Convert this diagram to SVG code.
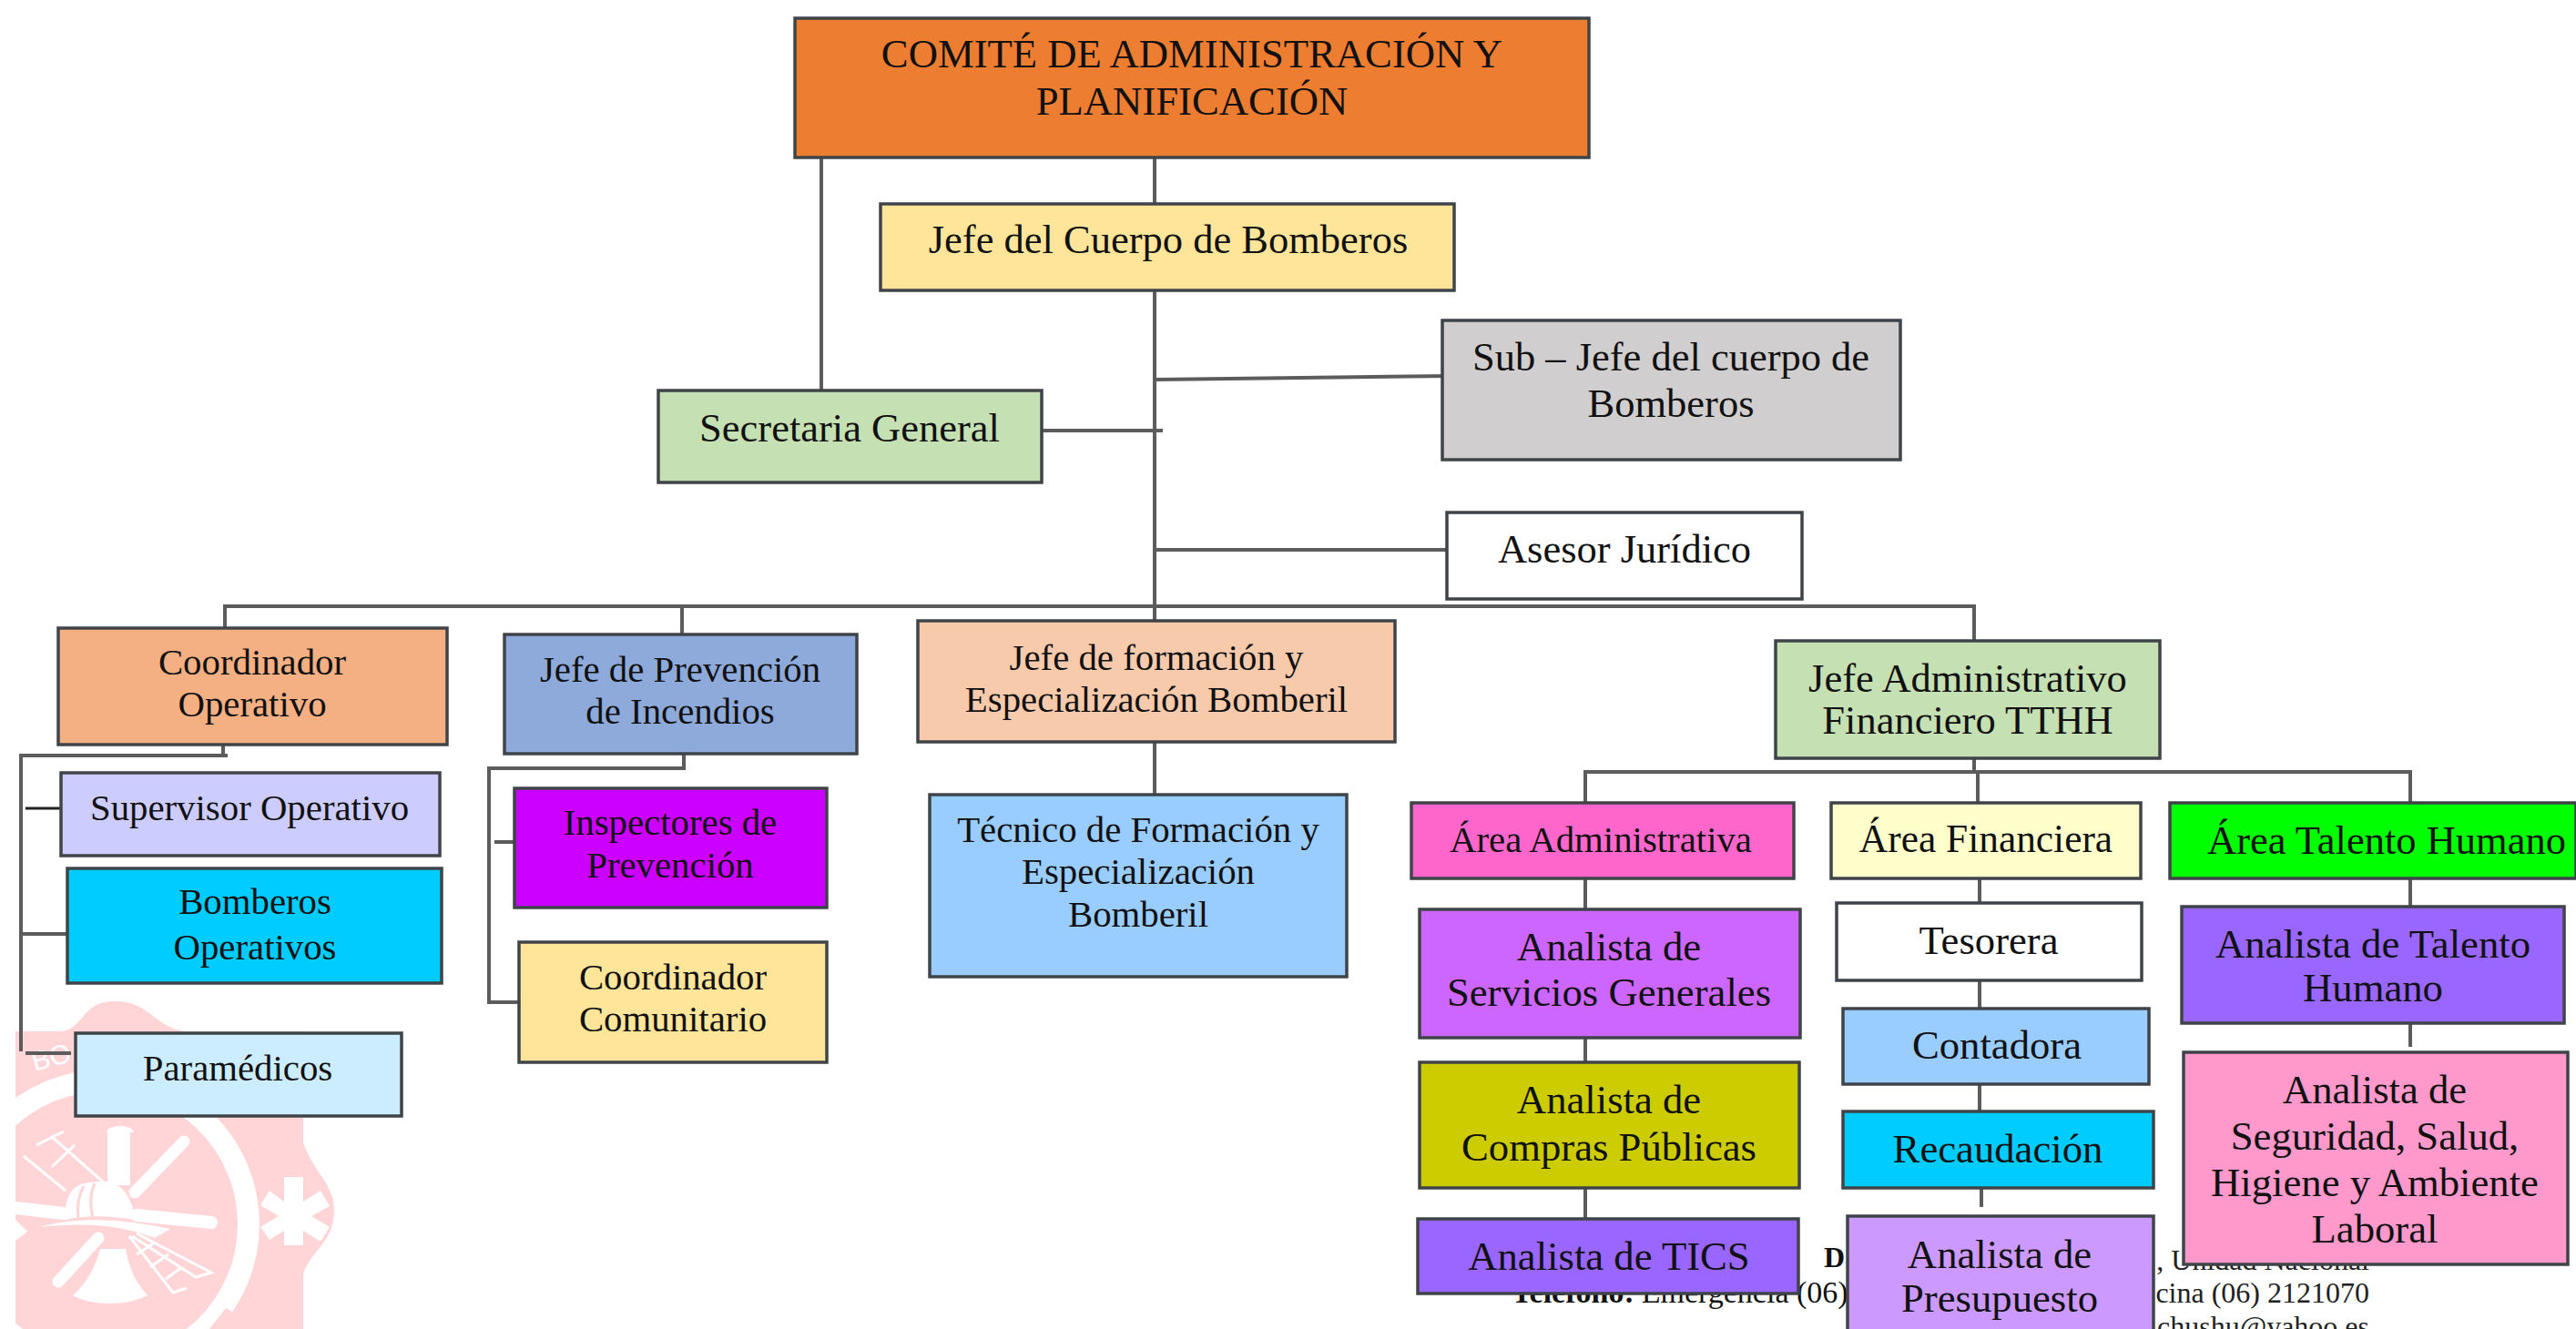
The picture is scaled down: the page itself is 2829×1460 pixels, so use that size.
<svg xmlns="http://www.w3.org/2000/svg" width="2829" height="1460" viewBox="0 0 2829 1460">
<style>
text{font-family:"Liberation Serif","Times New Roman",serif;fill:#111;text-anchor:middle}
.b{stroke:#3f4449;stroke-width:3.5}
.t44{font-size:44.5px}.t40{font-size:40.8px}.t45{font-size:44.7px}.t46{font-size:44.7px}
.c{stroke:#5c5c5c;stroke-width:4;fill:none}
.f{font-size:32px;text-anchor:end;fill:#222}
.w{fill:#fff}
.p{fill:#ffd5d8}
.wl{stroke:#fff;fill:none}
.pl{stroke:#ffd5d8;fill:none}
</style>
<defs><clipPath id="wc"><rect x="17" y="1090" width="400" height="370"/></clipPath></defs>
<rect width="2829" height="1460" fill="#fff"/>
<g id="watermark" clip-path="url(#wc)">
<path class="p" d="M0 1133H70C95 1125 90 1100 127 1100C165 1100 170 1130 205 1133H333V1255C345 1290 367 1300 367 1330C367 1365 340 1375 333 1400V1460H0Z"/>
<circle cx="115" cy="1345" r="170" class="w"/>
<path class="p" d="M248 1437L290 1460H230Z"/>
<circle cx="115" cy="1345" r="146" class="p"/>
<path class="w" d="M17 1340L30 1353L17 1363Z"/>
<g class="wl" stroke-linecap="round">
<path d="M17 1327L70 1333M150 1335L232 1343" stroke-width="14"/>
<path d="M148 1310L202 1254M108 1360L64 1408" stroke-width="13"/>
</g>
<path class="w" d="M118 1242H143V1302H118ZM117 1244a15 7 0 0 1 30 0ZM110 1372H138C142 1395 150 1410 162 1423C140 1435 100 1435 80 1423C95 1410 105 1392 110 1372Z"/>
<path class="w" d="M72 1340C70 1300 90 1298 115 1298C135 1298 147 1320 148 1340C115 1335 95 1335 72 1340Z"/>
<path class="w" d="M43 1348C90 1335 140 1340 187 1350L170 1360C130 1345 90 1343 43 1348Z"/>
<path class="pl" stroke-width="3" d="M92 1303C85 1315 85 1330 86 1338M104 1300C97 1315 100 1330 102 1338"/>
<g class="wl" stroke-width="3">
<path d="M26 1270L72 1308M56 1248L115 1300M40 1258L70 1243M57 1282L82 1258M150 1355L232 1398L215 1403L145 1358M142 1358L190 1420L205 1415M170 1365L150 1378M185 1378L165 1392M200 1392L182 1405"/>
</g>
<path class="w" d="M312 1293H333V1320L352 1308L362 1325L342 1336L362 1348L352 1364L333 1352V1368H312V1352L296 1362L286 1348L306 1336L286 1324L296 1308L312 1320Z"/>
<text x="38" y="1177" transform="rotate(-15 38 1177)" style="fill:#fff;font-family:'Liberation Sans',sans-serif;font-size:30px;text-anchor:start">BO</text>
</g>
<g id="footer">
<text x="2003" y="1392" style="font-size:32px;font-weight:bold;text-anchor:start;fill:#111">D</text>
<text x="2602" y="1395" class="f">, Unidad Nacional</text>
<text x="1660" y="1431" style="font-size:34px;font-weight:bold;text-anchor:start;fill:#111">Teléfono:<tspan font-weight="normal" dx="8">Emergencia (06)</tspan></text>
<text x="2602" y="1431" class="f">cina (06) 2121070</text>
<text x="2602" y="1468" class="f">chushu@yahoo.es</text>
</g>
<g id="connectors" class="c">
<path d="M1268 173V224M1268 319V682M902 173V429M1268 417L1592 413M1144 473H1277M1268 604H1589M247 690V666H2168V704M749 666V697"/>
<path d="M245 818V830M250 830H23V1155M23 1026H74M28 1157H78M751 828V844H537V1101H570M543 925H565"/>
<path d="M28 888H78" style="stroke:#222;stroke-width:3"/>
<path d="M1268 815V873M2168 833V848M1741 882V848H2647V882M2172 848V882M1741 965V999M1741 1140V1167M1741 1305V1339M2174 965V992M2174 1077V1108M2174 1191V1221M2176 1305V1326M2647 965V996M2647 1124V1150"/>
</g>
<g id="n-comite"><rect class="b" x="873" y="20" width="872" height="153" fill="#ed7d31"/><text class="t46" x="1309" y="74">COMITÉ DE ADMINISTRACIÓN Y</text><text class="t46" x="1309" y="126">PLANIFICACIÓN</text></g>
<g id="n-jefe"><rect class="b" x="967" y="224" width="630" height="95" fill="#ffe599"/><text class="t44" x="1283" y="278">Jefe del Cuerpo de Bomberos</text></g>
<g id="n-sub"><rect class="b" x="1584" y="352" width="503" height="153" fill="#d0cece"/><text class="t44" x="1835" y="407">Sub – Jefe del cuerpo de</text><text class="t44" x="1835" y="458">Bomberos</text></g>
<g id="n-secretaria"><rect class="b" x="723" y="429" width="421" height="101" fill="#c5e0b3"/><text class="t44" x="933" y="485">Secretaria General</text></g>
<g id="n-asesor"><rect class="b" x="1589" y="563" width="390" height="95" fill="#fff"/><text class="t44" x="1784" y="618">Asesor Jurídico</text></g>
<g id="n-coord"><rect class="b" x="64" y="690" width="427" height="128" fill="#f4b083"/><text class="t40" x="277" y="741">Coordinador</text><text class="t40" x="277" y="787">Operativo</text></g>
<g id="n-prev"><rect class="b" x="554" y="697" width="387" height="131" fill="#8eaadb"/><text class="t40" x="747" y="749">Jefe de Prevención</text><text class="t40" x="747" y="795">de Incendios</text></g>
<g id="n-form"><rect class="b" x="1008" y="682" width="524" height="133" fill="#f7caac"/><text class="t40" x="1270" y="736">Jefe de formación y</text><text class="t40" x="1270" y="782">Especialización Bomberil</text></g>
<g id="n-admin"><rect class="b" x="1950" y="704" width="422" height="129" fill="#c5e0b3"/><text class="t44" x="2161" y="760">Jefe Administrativo</text><text class="t44" x="2161" y="806">Financiero TTHH</text></g>
<g id="n-sup"><rect class="b" x="67" y="849" width="416" height="91" fill="#ccccff"/><text class="t40" x="274" y="901">Supervisor Operativo</text></g>
<g id="n-bomb"><rect class="b" x="74" y="954" width="411" height="126" fill="#00ccff"/><text class="t40" x="280" y="1004">Bomberos</text><text class="t40" x="280" y="1054">Operativos</text></g>
<g id="n-para"><rect class="b" x="83" y="1135" width="358" height="91" fill="#ccecff"/><text class="t40" x="261" y="1187">Paramédicos</text></g>
<g id="n-insp"><rect class="b" x="565" y="866" width="343" height="131" fill="#cc00ff"/><text class="t40" x="736" y="917">Inspectores de</text><text class="t40" x="736" y="964">Prevención</text></g>
<g id="n-comu"><rect class="b" x="570" y="1035" width="338" height="132" fill="#ffe599"/><text class="t40" x="739" y="1087">Coordinador</text><text class="t40" x="739" y="1133">Comunitario</text></g>
<g id="n-tec"><rect class="b" x="1021" y="873" width="458" height="200" fill="#99ccff"/><text class="t40" x="1250" y="925">Técnico de Formación y</text><text class="t40" x="1250" y="971">Especialización</text><text class="t40" x="1250" y="1018">Bomberil</text></g>
<g id="n-aadm"><rect class="b" x="1550" y="882" width="420" height="83" fill="#ff66cc"/><text class="t40" x="1758" y="936">Área Administrativa</text></g>
<g id="n-afin"><rect class="b" x="2011" y="882" width="340" height="83" fill="#ffffcc"/><text class="t44" style="font-size:43.4px" x="2181" y="936">Área Financiera</text></g>
<g id="n-ath"><rect class="b" x="2383" y="882" width="446" height="83" fill="#00ff00"/><text class="t44" x="2621" y="938">Área Talento Humano</text></g>
<g id="n-serv"><rect class="b" x="1559" y="999" width="418" height="141" fill="#cc66ff"/><text class="t45" x="1767" y="1055">Analista de</text><text class="t45" x="1767" y="1105">Servicios Generales</text></g>
<g id="n-comp"><rect class="b" x="1559" y="1167" width="417" height="138" fill="#cccc00"/><text class="t45" x="1767" y="1223">Analista de</text><text class="t45" x="1767" y="1275">Compras Públicas</text></g>
<g id="n-tics"><rect class="b" x="1557" y="1339" width="418" height="82" fill="#9966ff"/><text class="t45" x="1767" y="1395">Analista de TICS</text></g>
<g id="n-tes"><rect class="b" x="2017" y="992" width="335" height="85" fill="#fff"/><text class="t45" x="2184" y="1048">Tesorera</text></g>
<g id="n-cont"><rect class="b" x="2024" y="1108" width="336" height="83" fill="#99ccff"/><text class="t45" x="2193" y="1163">Contadora</text></g>
<g id="n-rec"><rect class="b" x="2024" y="1221" width="341" height="84" fill="#00ccff"/><text class="t45" x="2194" y="1277">Recaudación</text></g>
<g id="n-pres"><rect class="b" x="2029" y="1336" width="336" height="140" fill="#cc99ff"/><text class="t45" x="2196" y="1393">Analista de</text><text class="t45" x="2196" y="1441">Presupuesto</text></g>
<g id="n-ana"><rect class="b" x="2396" y="996" width="420" height="128" fill="#9966ff"/><text class="t45" x="2606" y="1052">Analista de Talento</text><text class="t45" x="2606" y="1100">Humano</text></g>
<g id="n-seg"><rect class="b" x="2398" y="1156" width="422" height="233" fill="#ff99cc"/><text class="t45" x="2608" y="1212">Analista de</text><text class="t45" x="2608" y="1263">Seguridad, Salud,</text><text class="t45" x="2608" y="1314">Higiene y Ambiente</text><text class="t45" x="2608" y="1365">Laboral</text></g>
</svg>
